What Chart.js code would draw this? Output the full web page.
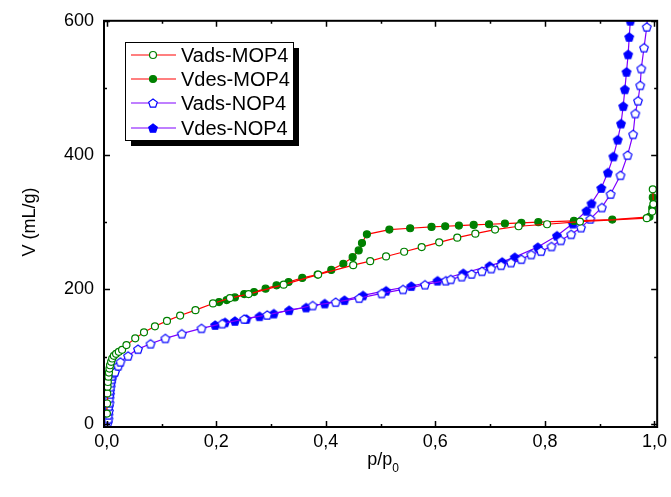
<!DOCTYPE html>
<html>
<head>
<meta charset="utf-8">
<script src="https://cdn.jsdelivr.net/npm/chart.js@4.4.0/dist/chart.umd.min.js"></script>
<style>body{margin:0;background:#fff}</style>
</head>
<body>
<canvas id="isoterma" width="671" height="497"></canvas>
<script>
// Vads-MOP4
const vadsMopP = [0.0003, 0.0006, 0.001, 0.0015, 0.002, 0.003, 0.004, 0.005, 0.006, 0.008, 0.010, 0.013, 0.017, 0.022, 0.028, 0.036, 0.052, 0.068, 0.088, 0.110, 0.134, 0.162, 0.194, 0.225, 0.259, 0.323, 0.386, 0.450, 0.481, 0.510, 0.543, 0.575, 0.607, 0.640, 0.673, 0.709, 0.752, 0.804, 0.864, 0.986, 0.996, 0.998, 0.997];
const vadsMopV = [15, 30, 45, 55, 62, 70, 76, 82, 87, 92, 97, 101, 104, 107, 110, 117, 127, 136, 145, 153, 161, 169, 179, 187, 193, 207, 222, 236, 242, 249, 256, 263, 270, 277, 283, 289, 294, 297, 301, 306, 316, 327, 349];
// Vdes-MOP4
const vdesMopP = [0.997, 0.996, 0.991, 0.923, 0.853, 0.788, 0.757, 0.727, 0.698, 0.670, 0.643, 0.618, 0.593, 0.554, 0.516, 0.475, 0.466, 0.460, 0.449, 0.432, 0.410, 0.385, 0.357, 0.332, 0.310, 0.290, 0.269, 0.251, 0.234, 0.219, 0.205];
const vdesMopV = [337, 321, 308, 304, 302, 300, 299, 298, 297, 296, 295, 294, 293, 291, 289, 282, 269, 258, 248, 238, 229, 222, 217, 211, 206, 201, 196, 193, 188, 184, 181];
// Vads-NOP4
const vadsNopP = [0.002, 0.003, 0.003, 0.004, 0.004, 0.005, 0.005, 0.006, 0.006, 0.007, 0.008, 0.009, 0.010, 0.012, 0.015, 0.021, 0.025, 0.039, 0.057, 0.080, 0.107, 0.137, 0.173, 0.211, 0.251, 0.293, 0.376, 0.418, 0.461, 0.502, 0.541, 0.581, 0.619, 0.628, 0.648, 0.666, 0.685, 0.702, 0.720, 0.738, 0.757, 0.775, 0.793, 0.812, 0.829, 0.848, 0.866, 0.883, 0.904, 0.920, 0.938, 0.951, 0.961, 0.965, 0.970, 0.974, 0.976, 0.981, 0.986, 0.989];
const vadsNopV = [2, 7, 13, 19, 26, 31, 38, 44, 49, 55, 61, 66, 71, 75, 77, 86, 92, 101, 111, 119, 127, 134, 142, 149, 156, 162, 176, 181, 187, 194, 200, 207, 213, 215, 219, 223, 227, 231, 236, 240, 245, 252, 257, 264, 273, 282, 292, 305, 322, 342, 370, 400, 431, 462, 481, 504, 529, 560, 591, 625];
// Vdes-NOP4
const vdesNopP = [0.956, 0.954, 0.952, 0.949, 0.946, 0.943, 0.939, 0.933, 0.925, 0.915, 0.903, 0.885, 0.876, 0.851, 0.822, 0.787, 0.745, 0.722, 0.699, 0.651, 0.604, 0.556, 0.510, 0.468, 0.434, 0.398, 0.364, 0.333, 0.305, 0.279, 0.255, 0.234, 0.216, 0.198];
const vdesNopV = [600, 576, 550, 524, 498, 473, 447, 423, 398, 374, 351, 328, 317, 298, 280, 263, 248, 241, 235, 224, 213, 205, 198, 191, 184, 179, 173, 169, 164, 160, 156, 153, 151, 147];

const xTicks = [0, 0.2, 0.4, 0.6, 0.8, 1.0];
const xMinor = [0.1, 0.3, 0.5, 0.7, 0.9];
const yTicks = [0, 200, 400, 600];
const yMinor = [100, 300, 500];

const FONTE = '"Liberation Sans", Arial, sans-serif';
const VERMELHO = '#ff0000', ROXO = '#8000ff', VERDE = '#008000', AZUL = '#0000ff';

function pares(px, vy) { return px.map((p, i) => ({ x: p, y: vy[i] })); }

// marcador pentagono (Chart.js nao tem)
function pentagono(fill, stroke, r) {
    const c = document.createElement('canvas');
    const s = Math.ceil(2 * r + 3);
    c.width = s; c.height = s;
    const g = c.getContext('2d');
    g.beginPath();
    for (let k = 0; k < 5; k++) {
        const a = -Math.PI / 2 + k * 2 * Math.PI / 5;
        const px = s / 2 + r * Math.cos(a), py = s / 2 + 0.5 + r * Math.sin(a);
        if (k) g.lineTo(px, py); else g.moveTo(px, py);
    }
    g.closePath();
    g.fillStyle = fill; g.fill();
    g.lineWidth = 1.2; g.strokeStyle = stroke; g.stroke();
    return c;
}
const pentAberto = pentagono('#fff', AZUL, 4.5);
const pentCheio = pentagono(AZUL, AZUL, 4.5);

function serie(label, dados, cor, marcador, fundo, borda) {
    return {
        label: label, data: dados, showLine: true, tension: 0,
        borderColor: cor, borderWidth: 1.2,
        pointStyle: marcador, pointRadius: 3.5, pointBorderWidth: 1.2,
        pointBackgroundColor: fundo, pointBorderColor: borda
    };
}

const moldura = {
    id: 'moldura',
    afterDraw(chart) {
        const { ctx, chartArea: a, scales: { x, y } } = chart;
        ctx.save();
        ctx.strokeStyle = '#000';
        ctx.lineWidth = 1.5;
        const tx = (v, len) => {
            const p = Math.round(x.getPixelForValue(v)) + 0.5;
            ctx.beginPath();
            ctx.moveTo(p, a.bottom); ctx.lineTo(p, a.bottom - len);
            ctx.moveTo(p, a.top); ctx.lineTo(p, a.top + len);
            ctx.stroke();
        };
        const ty = (v, len) => {
            const p = Math.round(y.getPixelForValue(v)) + 0.5;
            ctx.beginPath();
            ctx.moveTo(a.left, p); ctx.lineTo(a.left + len, p);
            ctx.moveTo(a.right, p); ctx.lineTo(a.right - len, p);
            ctx.stroke();
        };
        xTicks.forEach(v => tx(v, 6));
        xMinor.forEach(v => tx(v, 3));
        yTicks.forEach(v => ty(v, 6));
        yMinor.forEach(v => ty(v, 3));
        ctx.lineWidth = 2;
        ctx.strokeRect(a.left, a.top, a.right - a.left, a.bottom - a.top);

        // titulos dos eixos
        ctx.fillStyle = '#000';
        ctx.font = '18px ' + FONTE;
        ctx.save();
        ctx.translate(30, 222);
        ctx.rotate(-Math.PI / 2);
        ctx.textAlign = 'center';
        ctx.textBaseline = 'middle';
        ctx.fillText('V (mL/g)', 0, 0);
        ctx.restore();
        const w1 = ctx.measureText('p/p').width;
        ctx.font = '12px ' + FONTE;
        const w2 = ctx.measureText('0').width;
        const x0 = 383 - (w1 + w2) / 2;
        ctx.textAlign = 'left';
        ctx.textBaseline = 'alphabetic';
        ctx.font = '18px ' + FONTE;
        ctx.fillText('p/p', x0, 465);
        ctx.font = '12px ' + FONTE;
        ctx.fillText('0', x0 + w1, 472);

        // legenda com sombra
        const lx = 125, ly = 42, lw = 168, lh = 98;
        ctx.fillStyle = '#000';
        ctx.fillRect(lx + 6, ly + 6, lw, lh);
        ctx.fillStyle = '#fff';
        ctx.fillRect(lx, ly, lw, lh);
        ctx.lineWidth = 1;
        ctx.strokeRect(lx + 0.5, ly + 0.5, lw, lh);
        const linhas = [55, 79, 103, 128];
        chart.data.datasets.forEach((ds, i) => {
            const yy = linhas[i];
            ctx.strokeStyle = ds.borderColor;
            ctx.lineWidth = 1.2;
            ctx.beginPath();
            ctx.moveTo(131, yy); ctx.lineTo(176, yy);
            ctx.stroke();
            if (ds.pointStyle === 'circle') {
                ctx.beginPath();
                ctx.arc(153, yy, 3.5, 0, Math.PI * 2);
                ctx.fillStyle = ds.pointBackgroundColor;
                ctx.fill();
                ctx.strokeStyle = ds.pointBorderColor;
                ctx.stroke();
            } else {
                const im = ds.pointStyle;
                ctx.drawImage(im, 153 - im.width / 2, yy - im.height / 2);
            }
            ctx.fillStyle = '#000';
            ctx.font = '20px ' + FONTE;
            ctx.textBaseline = 'middle';
            ctx.fillText(ds.label, 181, yy + 1);
        });
        ctx.restore();
    }
};

new Chart(document.getElementById('isoterma').getContext('2d'), {
    type: 'scatter',
    data: {
        datasets: [
            serie('Vads-MOP4', pares(vadsMopP, vadsMopV), VERMELHO, 'circle', '#fff', VERDE),
            serie('Vdes-MOP4', pares(vdesMopP, vdesMopV), VERMELHO, 'circle', VERDE, VERDE),
            serie('Vads-NOP4', pares(vadsNopP, vadsNopV), ROXO, pentAberto, '#fff', AZUL),
            serie('Vdes-NOP4', pares(vdesNopP, vdesNopV), ROXO, pentCheio, AZUL, AZUL)
        ]
    },
    options: {
        responsive: false,
        animation: false,
        devicePixelRatio: 1,
        layout: { padding: { top: 19, right: 11, left: 0, bottom: 0 } },
        plugins: { legend: { display: false }, tooltip: { enabled: false } },
        scales: {
            x: {
                type: 'linear', min: -0.005, max: 1.005,
                grid: { display: false, drawTicks: false },
                border: { display: false },
                afterBuildTicks: s => { s.ticks = xTicks.map(v => ({ value: v })); },
                afterFit: s => { s.height = 70; },
                ticks: {
                    padding: 4, color: '#000', maxRotation: 0,
                    font: { family: FONTE, size: 18 },
                    callback: v => v.toFixed(1).replace('.', ',')
                }
            },
            y: {
                type: 'linear', min: -5, max: 600,
                grid: { display: false, drawTicks: false },
                border: { display: false },
                afterBuildTicks: s => { s.ticks = yTicks.map(v => ({ value: v })); },
                afterFit: s => { s.width = 104; },
                ticks: {
                    padding: 10, color: '#000',
                    font: { family: FONTE, size: 18 }
                }
            }
        }
    },
    plugins: [moldura]
});
</script>
</body>
</html>
